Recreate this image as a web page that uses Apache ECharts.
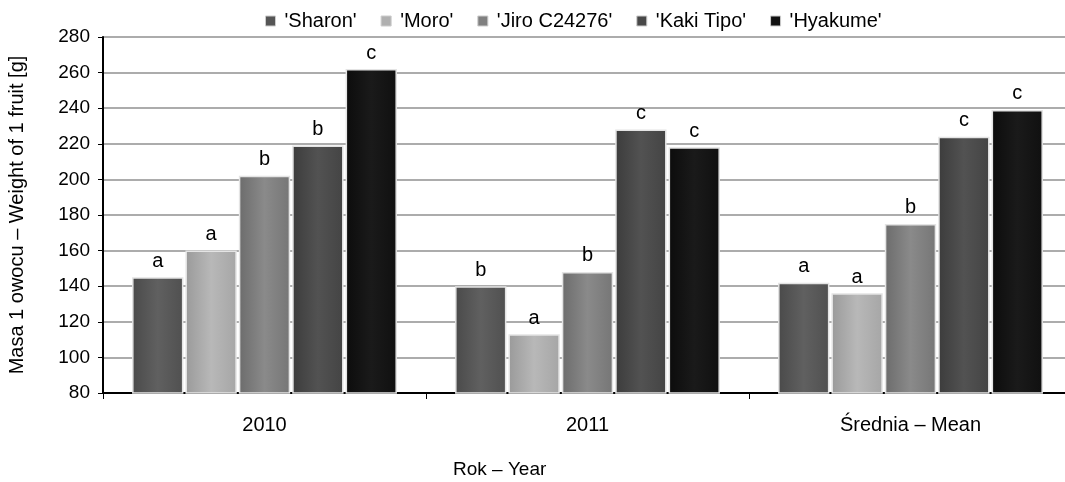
<!DOCTYPE html>
<html>
<head>
<meta charset="utf-8">
<script src="https://cdn.jsdelivr.net/npm/echarts@6/dist/echarts.min.js"></script>
<style>html,body{margin:0;padding:0;background:#fff}#c{width:1065px;height:482px}</style>
</head>
<body>
<div id="c"></div>
<script>
var categories = ['2010', '2011', 'Średnia – Mean'];
var seriesNames = ["'Sharon'", "'Moro'", "'Jiro C24276'", "'Kaki Tipo'", "'Hyakume'"];
var sharon = [145, 140, 142];
var moro = [160, 113, 136];
var jiro = [202, 148, 175];
var kakiTipo = [219, 228, 224];
var hyakume = [262, 218, 239];
var sharonLetters = ['a', 'b', 'a'];
var moroLetters = ['a', 'a', 'a'];
var jiroLetters = ['b', 'b', 'b'];
var kakiLetters = ['b', 'c', 'c'];
var hyakumeLetters = ['c', 'c', 'c'];
var yTicks = [80, 100, 120, 140, 160, 180, 200, 220, 240, 260, 280];

var values = [sharon, moro, jiro, kakiTipo, hyakume];
var letters = [sharonLetters, moroLetters, jiroLetters, kakiLetters, hyakumeLetters];
var shades = [
  ['#4a4a4a', '#606060', '#505050'],
  ['#9a9a9a', '#b8b8b8', '#a6a6a6'],
  ['#6c6c6c', '#8a8a8a', '#767676'],
  ['#3c3c3c', '#525252', '#444444'],
  ['#0c0c0c', '#1a1a1a', '#101010']
];
var legendColors = ['#555555', '#b0b0b0', '#808080', '#484848', '#111111'];
var FONT = 'Liberation Sans, Arial, sans-serif';

var chart = echarts.init(document.getElementById('c'));
var series = values.map(function (vals, i) {
  var s = shades[i];
  return {
    name: seriesNames[i],
    type: 'bar',
    data: vals,
    barGap: '4%',
    barCategoryGap: '18%',
    itemStyle: {
      color: new echarts.graphic.LinearGradient(0, 0, 1, 0, [
        { offset: 0, color: s[0] },
        { offset: 0.5, color: s[1] },
        { offset: 1, color: s[2] }
      ]),
      borderColor: '#e4e4e4',
      borderWidth: 1.5
    },
    label: {
      show: true,
      position: 'top',
      distance: 6,
      color: '#000',
      fontFamily: FONT,
      fontSize: 20,
      formatter: function (p) { return letters[i][p.dataIndex]; }
    }
  };
});

chart.setOption({
  animation: false,
  color: legendColors,
  textStyle: { fontFamily: FONT },
  legend: {
    top: 6,
    left: 260,
    itemWidth: 10,
    itemHeight: 10,
    itemGap: 24,
    icon: 'rect',
    textStyle: { fontSize: 20, color: '#000', fontFamily: FONT, padding: [0, 0, 0, 4] },
    data: seriesNames.map(function (n, i) { return { name: n, itemStyle: { color: legendColors[i], borderColor: '#ccc', borderWidth: 1 } }; })
  },
  grid: { left: 103, right: -7, top: 37, bottom: 89, containLabel: false, outerBoundsMode: 'none' },
  xAxis: {
    type: 'category',
    data: categories,
    axisLine: { lineStyle: { color: '#000', width: 2 } },
    axisTick: { show: true, length: 6, lineStyle: { color: '#000', width: 1 } },
    axisLabel: { color: '#000', fontSize: 20, margin: 22, fontFamily: FONT }
  },
  yAxis: {
    type: 'value',
    min: yTicks[0],
    max: yTicks[yTicks.length - 1],
    interval: 20,
    name: 'Masa 1 owocu – Weight of 1 fruit [g]',
    nameLocation: 'middle',
    nameGap: 76,
    nameTextStyle: { color: '#000', fontSize: 20, fontFamily: FONT },
    axisLine: { show: true, lineStyle: { color: '#000', width: 2 } },
    axisTick: { show: true, length: 5, lineStyle: { color: '#000' } },
    axisLabel: { color: '#000', fontSize: 19, margin: 13, fontFamily: FONT },
    splitLine: { show: true, lineStyle: { color: '#909090', width: 1.5 } }
  },
  graphic: [{
    type: 'text',
    left: 453,
    top: 460,
    style: { text: 'Rok – Year', fill: '#000', font: '19px Liberation Sans, Arial, sans-serif' }
  }],
  series: series
});
</script>
</body>
</html>
